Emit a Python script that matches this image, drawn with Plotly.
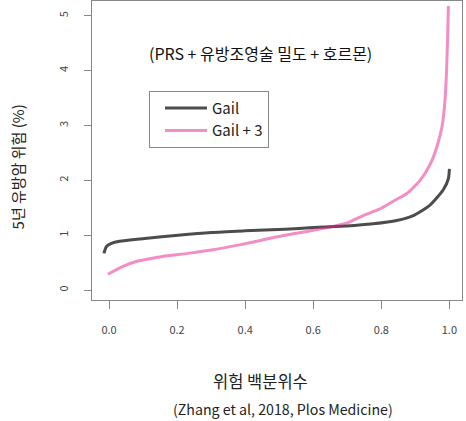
import plotly.graph_objects as go

# Gail 모델 곡선 (위험 백분위수 vs 5년 유방암 위험 %)
gail_x = [-0.015, -0.008, 0.007, 0.031, 0.105, 0.203, 0.301, 0.399, 0.517, 0.600,
          0.698, 0.776, 0.845, 0.894, 0.943, 0.982, 0.997, 1.0]
gail_y = [0.67, 0.79, 0.85, 0.89, 0.94, 1.00, 1.05, 1.08, 1.11, 1.14,
          1.17, 1.21, 1.27, 1.36, 1.55, 1.83, 2.03, 2.21]

# Gail + 3 (PRS + 유방조영술 밀도 + 호르몬)
gail3_x = [-0.003, 0.036, 0.085, 0.154, 0.232, 0.301, 0.379, 0.448, 0.517, 0.581,
           0.649, 0.698, 0.747, 0.796, 0.835, 0.875, 0.914, 0.944, 0.963, 0.978,
           0.987, 0.992, 0.995, 0.997]
gail3_y = [0.29, 0.42, 0.53, 0.61, 0.67, 0.73, 0.82, 0.91, 1.00, 1.07,
           1.15, 1.22, 1.36, 1.48, 1.62, 1.76, 2.00, 2.30, 2.61, 2.97,
           3.45, 4.06, 4.67, 5.18]

x_ticks = [0.0, 0.2, 0.4, 0.6, 0.8, 1.0]
y_ticks = [0, 1, 2, 3, 4, 5]

FONT = "Noto Sans CJK KR"

fig = go.Figure()

fig.add_trace(go.Scatter(
    x=gail_x, y=gail_y, mode='lines', name='Gail',
    line=dict(color='rgba(0,0,0,0.7)', width=3, shape='spline', smoothing=0.6),
))
fig.add_trace(go.Scatter(
    x=gail3_x, y=gail3_y, mode='lines', name='Gail + 3',
    line=dict(color='rgba(230,30,140,0.5)', width=3, shape='spline', smoothing=0.6),
))

fig.update_layout(
    width=466, height=421,
    margin=dict(l=92, r=4, t=1, b=121),
    paper_bgcolor='white', plot_bgcolor='white',
    font=dict(family=FONT, size=16, color='#222'),
    showlegend=True,
    legend=dict(
        x=0.154, y=0.700, xanchor='left', yanchor='top',
        bordercolor='#888', borderwidth=1, bgcolor='white',
        font=dict(size=15, color='#222'),
        indentation=10, itemwidth=42, tracegroupgap=0,
    ),
)

fig.update_xaxes(
    range=[-0.05, 1.037], tickvals=x_ticks, tickformat='.1f',
    showgrid=False, zeroline=False,
    showline=True, mirror=True, linecolor='#888', linewidth=1,
    ticks='outside', ticklen=8, tickcolor='#888',
    ticklabelstandoff=12,
    tickfont=dict(size=11, color='#444', family=FONT),
)
fig.update_yaxes(
    range=[-0.18, 5.27], tickvals=y_ticks,
    showgrid=False, zeroline=False,
    showline=True, mirror=True, linecolor='#888', linewidth=1,
    ticks='outside', ticklen=7, tickcolor='#888',
    tickangle=-90, ticklabelstandoff=12,
    tickfont=dict(size=11, color='#444', family=FONT),
)

# 텍스트
fig.add_annotation(text='(PRS + 유방조영술 밀도 + 호르몬)', xref='paper', yref='paper',
                   x=(260.5 - 92) / 370, y=1 - 52.5 / 300, showarrow=False,
                   xanchor='center', yanchor='middle', font=dict(size=16, color='#111'))
fig.add_annotation(text='5년 유방암 위험 (%)', xref='paper', yref='paper',
                   x=0, xshift=-75, y=1 - 167 / 300, showarrow=False, textangle=-90,
                   xanchor='center', yanchor='middle', font=dict(size=15, color='#222'))
fig.add_annotation(text='위험 백분위수', xref='paper', yref='paper',
                   x=(260 - 92) / 370, y=0, yshift=-(381 - 300), showarrow=False,
                   xanchor='center', yanchor='middle', font=dict(size=16.5, color='#222'))
fig.add_annotation(text='(Zhang et al, 2018, Plos Medicine)', xref='paper', yref='paper',
                   x=(283 - 92) / 370, y=0, yshift=-(409 - 300), showarrow=False,
                   xanchor='center', yanchor='middle', font=dict(size=14.2, color='#222'))

# 페이지 기본 여백 제거
fig.write_html("out.html", config={'displayModeBar': False},
               post_script="document.body.style.margin='0';")
